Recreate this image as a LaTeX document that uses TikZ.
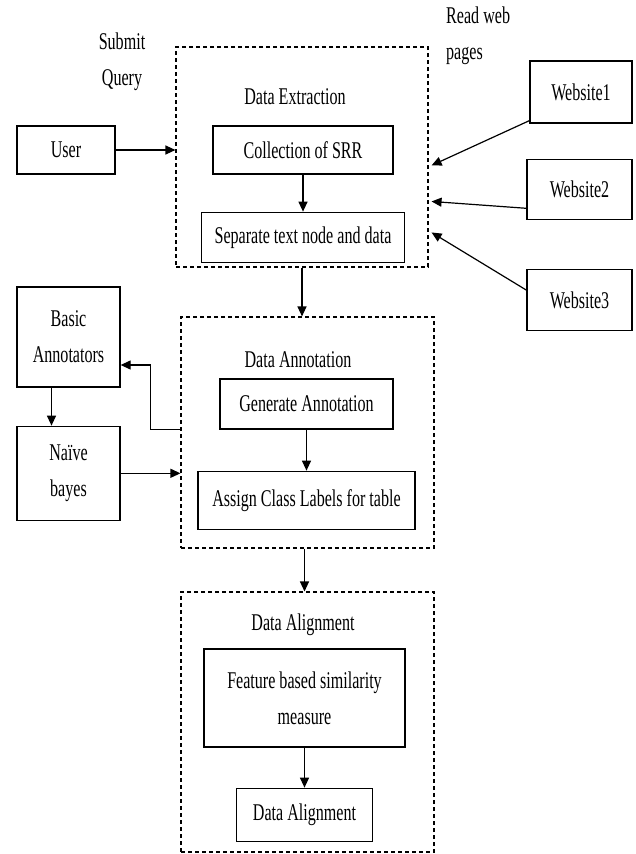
\documentclass[tikz,border=0pt]{standalone}
\usepackage{fontspec}
\setmainfont{Liberation Serif}[FakeStretch=0.67]
\usepackage{tikz}
\usetikzlibrary{arrows.meta, positioning, calc}

\begin{document}
\begin{tikzpicture}[
    x=1pt, y=-1pt,
    font=\fontsize{24}{36}\selectfont,
    box/.style={draw, line width=1.3pt, inner sep=0pt, align=center},
    frame/.style={draw, dash pattern=on 4pt off 3pt, line width=1.1pt, inner sep=0pt},
    notetext/.style={inner sep=0pt, align=center},
    arrow/.style={->, line width=1.2pt, >={Triangle[length=10pt, width=9pt]}}
]
    \useasboundingbox (0,0) rectangle (635,854);

    % data extraction
    \node[frame, minimum width=252pt, minimum height=220pt] (extraction) at (302,157) {};
    \node[notetext] (extitle) at (295,97) {Data Extraction};
    \node[box, minimum width=180pt, minimum height=48pt] (collect) at (303,150) {Collection of SRR};
    \node[box, minimum width=203pt, minimum height=50pt, below=37pt of collect] (separate) {Separate text node and data};
    \node[box, minimum width=98pt, minimum height=48pt] (user) at (66,150) {User};
    \node[notetext] (query) at (122,61.5) {Submit\\Query};
    \node[notetext, anchor=west, align=left] (readweb) at (446,35.5) {Read web\\pages};
    \node[box, minimum width=102pt, minimum height=62pt] (website1) at (581,92) {Website1};
    \node[box, minimum width=105pt, minimum height=60pt, below=35pt of website1.south east, anchor=north east] (website2) {Website2};
    \node[box, minimum width=105pt, minimum height=61pt, below=49pt of website2] (website3) {Website3};

    % data annotation
    \node[frame, minimum width=253pt, minimum height=231pt] (annotation) at (307.5,432.5) {};
    \node[notetext] (antitle) at (298,360) {Data Annotation};
    \node[box, minimum width=173pt, minimum height=50pt] (generate) at (306.5,404) {Generate Annotation};
    \node[box, minimum width=217pt, minimum height=58pt, below=41pt of generate] (assign) {Assign Class Labels for table};
    \node[box, minimum width=103pt, minimum height=100pt] (basic) at (68.5,337) {Basic\\Annotators};
    \node[box, minimum width=103pt, minimum height=94pt, below=38pt of basic] (naive) {Naïve\\bayes};

    % data alignment
    \node[frame, minimum width=253pt, minimum height=260pt] (alignment) at (307.5,722) {};
    \node[notetext] (altitle) at (303,625) {Data Alignment};
    \node[box, minimum width=201pt, minimum height=98pt] (feature) at (304.5,698) {Feature based similarity\\measure};
    \node[box, minimum width=136pt, minimum height=53pt, below=40pt of feature] (align) {Data Alignment};

    \draw[arrow] (user) -- (user -| extraction.west);
    \draw[arrow] (collect) -- (collect |- separate.north);
    \draw[arrow] ([yshift=3pt]website1.south west) -- ($(extraction.north east)+(3,119)$);
    \draw[arrow] ([yshift=-19pt]website2.west) -- ($(extraction.north east)+(3,155)$);
    \draw[arrow] ([yshift=10pt]website3.west) -- ($(extraction.north east)+(3,186)$);
    \draw[arrow] (extraction.south) -- (extraction.south |- annotation.north);
    \draw[arrow] (generate) -- (generate |- assign.north);
    \draw[arrow] (generate.south -| annotation.west) -- ++(-30,0) |- ([yshift=-28pt]basic.east);
    \draw[arrow] ([xshift=-17pt]basic.south) -- ([xshift=-17pt]basic.south |- naive.north);
    \draw[arrow] (naive) -- (naive -| annotation.west);
    \draw[arrow] (feature |- annotation.south) -- (feature |- alignment.north);
    \draw[arrow] (feature) -- (align);
\end{tikzpicture}
\end{document}
